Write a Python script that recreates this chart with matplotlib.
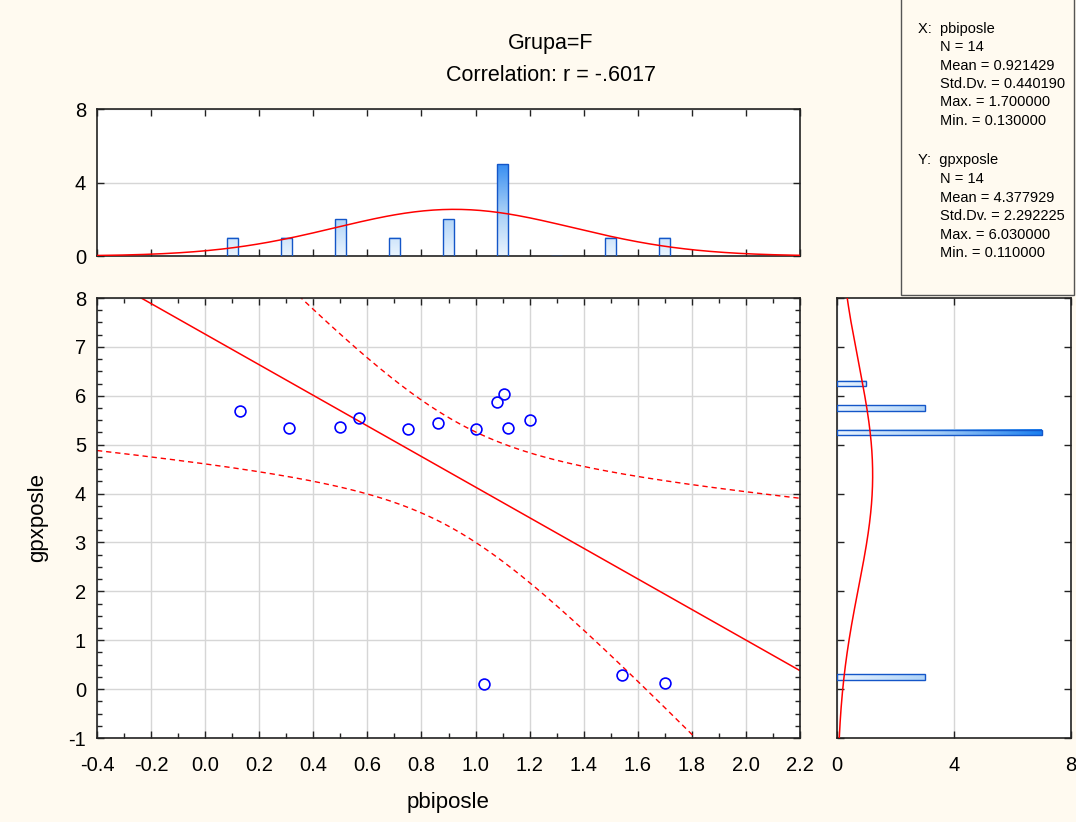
import numpy as np
import matplotlib
matplotlib.use("Agg")
import matplotlib.pyplot as plt
from matplotlib.patches import Rectangle
from matplotlib.colors import LinearSegmentedColormap
from matplotlib.ticker import MultipleLocator, FixedLocator, NullFormatter

plt.rcParams['font.family'] = ['Liberation Sans', 'DejaVu Sans']
plt.rcParams['lines.scale_dashes'] = False

# ---------------------------------------------------------------------------
# data
# ---------------------------------------------------------------------------
pbiposle = [0.13, 0.31, 0.50, 0.57, 0.75, 0.86, 1.00, 1.08, 1.105, 1.12, 1.20, 1.03, 1.54, 1.70]
gpxposle = [5.68, 5.35, 5.36, 5.55, 5.33, 5.45, 5.33, 5.87, 6.03, 5.34, 5.50, 0.11, 0.28, 0.12]

# marginal histogram counts (as drawn)
x_bin_centers = [0.1, 0.3, 0.5, 0.7, 0.9, 1.1, 1.3, 1.5, 1.7]
x_bin_counts = [1, 1, 2, 1, 2, 5, 0, 1, 1]
x_bin_width = 0.2
y_bin_centers = [0.25, 5.25, 5.75, 6.25]
y_bin_counts = [3, 7, 3, 1]
y_bin_width = 0.5

title_lines = ["Grupa=F", "Correlation: r = -.6017"]
stats_x = ["X:  pbiposle", "N = 14", "Mean = 0.921429", "Std.Dv. = 0.440190",
           "Max. = 1.700000", "Min. = 0.130000"]
stats_y = ["Y:  gpxposle", "N = 14", "Mean = 4.377929", "Std.Dv. = 2.292225",
           "Max. = 6.030000", "Min. = 0.110000"]

x = np.array(pbiposle)
y = np.array(gpxposle)
n = len(x)

# regression + 95% confidence band for the mean
b, a = np.polyfit(x, y, 1)
xs = np.linspace(-0.4, 2.2, 300)
fit = a + b * xs
resid = y - (a + b * x)
s = np.sqrt(np.sum(resid ** 2) / (n - 2))
sxx = np.sum((x - x.mean()) ** 2)
tval = 2.1788
half = tval * s * np.sqrt(1.0 / n + (xs - x.mean()) ** 2 / sxx)

mx, sdx = x.mean(), x.std(ddof=1)
my, sdy = y.mean(), y.std(ddof=1)

# ---------------------------------------------------------------------------
# figure layout (pixel based)
# ---------------------------------------------------------------------------
W, H = 1076, 822
fig = plt.figure(figsize=(W / 100, H / 100), dpi=100)
fig.patch.set_facecolor('#fffaf0')


def rect(l, t, r, btm):
    return [l / W, 1 - btm / H, (r - l) / W, (btm - t) / H]


ax = fig.add_axes(rect(97, 298, 800, 738))
axt = fig.add_axes(rect(97, 109, 800, 256))
axr = fig.add_axes(rect(837, 298, 1071, 738))

red = '#ff0000'
grid_c = '#d6d6d6'
edge_c = '#1456c8'
tick_fs = 14.5
int_fmt = matplotlib.ticker.FuncFormatter(lambda v, p: f"{v:.0f}")


def style(a):
    for sp in a.spines.values():
        sp.set_linewidth(1.2)
        sp.set_color('#222222')
    a.tick_params(which='both', direction='in', top=True, right=True,
                  labelsize=tick_fs, color='#222222', width=1.0)
    a.tick_params(which='major', length=5)
    a.tick_params(which='minor', length=3.5)
    a.set_facecolor('white')


# ---- main scatter ----
style(ax)
ax.xaxis.set_major_locator(MultipleLocator(0.2))
ax.xaxis.set_minor_locator(MultipleLocator(0.1))
ax.yaxis.set_major_locator(MultipleLocator(1))
ax.yaxis.set_minor_locator(MultipleLocator(0.25))
ax.xaxis.set_major_formatter(matplotlib.ticker.FuncFormatter(lambda v, p: f"{v:.1f}"))
ax.yaxis.set_major_formatter(int_fmt)
ax.tick_params(axis='x', which='major', pad=13)
ax.tick_params(axis='y', which='major', pad=8)
ax.grid(True, which='major', color=grid_c, lw=1.0)
ax.set_axisbelow(True)

ax.plot(xs, fit, color=red, lw=1.1)
ax.plot(xs, fit + half, color=red, lw=1.0, dashes=(3.8, 2.8))
ax.plot(xs, fit - half, color=red, lw=1.0, dashes=(3.8, 2.8))
ax.plot(x, y, 'o', mfc='none', mec='#0000ff', ms=7.8, mew=1.2, clip_on=False, zorder=5)
ax.set_xlim(-0.4, 2.2)
ax.set_ylim(-1, 8)

# ---- top histogram ----
style(axt)
axt.xaxis.set_major_locator(MultipleLocator(0.2))
axt.xaxis.set_major_formatter(NullFormatter())
axt.yaxis.set_major_locator(FixedLocator([0, 4, 8]))
axt.yaxis.set_major_formatter(int_fmt)
axt.tick_params(axis='y', pad=8)
axt.grid(True, axis='y', color=grid_c, lw=1.0)
axt.set_axisbelow(True)

cmap_v = LinearSegmentedColormap.from_list('bv', ['#eaf4fe', '#a4cdf6', '#3a8ff2'])
bw = 0.042
for cx, cnt in zip(x_bin_centers, x_bin_counts):
    if cnt > 0:
        grad = np.linspace(0, cnt, 60).reshape(-1, 1)
        axt.imshow(grad, cmap=cmap_v, vmin=0, vmax=max(x_bin_counts), aspect='auto',
                   origin='lower', extent=[cx - bw / 2, cx + bw / 2, 0, cnt], zorder=2)
    axt.bar(cx, cnt, width=bw, facecolor='none', edgecolor=edge_c, lw=1.0, zorder=3)
xd = np.linspace(-0.4, 2.2, 300)
axt.plot(xd, n * x_bin_width * np.exp(-0.5 * ((xd - mx) / sdx) ** 2) / (sdx * np.sqrt(2 * np.pi)),
         color=red, lw=1.1, zorder=4)
axt.set_xlim(-0.4, 2.2)
axt.set_ylim(0, 8)

# ---- right histogram ----
style(axr)
axr.xaxis.set_major_locator(FixedLocator([0, 4, 8]))
axr.xaxis.set_major_formatter(int_fmt)
axr.yaxis.set_major_locator(MultipleLocator(1))
axr.yaxis.set_major_formatter(NullFormatter())
axr.tick_params(axis='x', pad=13)
axr.grid(True, axis='x', color=grid_c, lw=1.0)
axr.set_axisbelow(True)

cmap_h = LinearSegmentedColormap.from_list('bh', ['#eaf4fe', '#a4cdf6', '#1a7ff0'])
bh = 0.12
for cy, cnt in zip(y_bin_centers, y_bin_counts):
    grad = np.linspace(0, cnt, 80).reshape(1, -1)
    axr.imshow(grad, cmap=cmap_h, vmin=0, vmax=max(y_bin_counts), aspect='auto',
               origin='lower', extent=[0, cnt, cy - bh / 2, cy + bh / 2], zorder=2)
    axr.barh(cy, cnt, height=bh, facecolor='none', edgecolor=edge_c, lw=1.0, zorder=3)
yd = np.linspace(-1, 8, 300)
axr.plot(n * y_bin_width * np.exp(-0.5 * ((yd - my) / sdy) ** 2) / (sdy * np.sqrt(2 * np.pi)), yd,
         color=red, lw=1.1, zorder=4)
axr.set_xlim(0, 8)
axr.set_ylim(-1, 8)

# ---- texts ----
fig.text(551 / W, 1 - 49 / H, title_lines[0], ha='center', va='baseline', fontsize=15.5)
fig.text(551 / W, 1 - 81 / H, title_lines[1], ha='center', va='baseline', fontsize=15.5)
fig.text(448 / W, 1 - 802 / H, "pbiposle", ha='center', va='center', fontsize=16)
fig.text(38 / W, 1 - 518 / H, "gpxposle", ha='center', va='center', fontsize=16, rotation=90)

# stats box
fig.patches.append(Rectangle((901 / W, 1 - 295 / H), 173 / W, 300 / H, transform=fig.transFigure,
                             facecolor='#fffaf0', edgecolor='#555555', lw=1.0, zorder=0))
ys_x = [29, 47, 66, 84, 102, 121]
ys_y = [160, 179, 198, 216, 235, 253]
for i, (tx, ty) in enumerate(zip(stats_x, ys_x)):
    fig.text((918 if i == 0 else 940) / W, 1 - ty / H, tx, va='center', ha='left', fontsize=10.5)
for i, (tx, ty) in enumerate(zip(stats_y, ys_y)):
    fig.text((918 if i == 0 else 940) / W, 1 - ty / H, tx, va='center', ha='left', fontsize=10.5)

fig.savefig('out.png', dpi=100, facecolor=fig.get_facecolor())
